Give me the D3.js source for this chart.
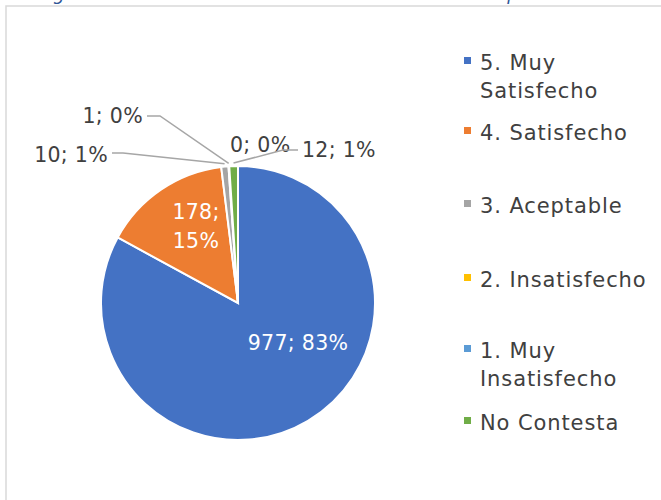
<!DOCTYPE html>
<html><head><meta charset="utf-8">
<script src="https://cdn.jsdelivr.net/npm/d3@7"></script>
<style>html,body{margin:0;padding:0;background:#fff;overflow:hidden}</style>
</head><body>
<svg id="c" width="661" height="500"></svg>
<script>
const categories = ["5. Muy Satisfecho","4. Satisfecho","3. Aceptable","2. Insatisfecho","1. Muy Insatisfecho","No Contesta"];
const values = [977,178,10,1,0,12];
const legendLines = [["5. Muy","Satisfecho"],["4. Satisfecho"],["3. Aceptable"],["2. Insatisfecho"],["1. Muy","Insatisfecho"],["No Contesta"]];
const colors = ["#4472C4","#ED7D31","#A5A5A5","#FFC000","#5B9BD5","#70AD47"];

const svg = d3.select("#c");
const FONT = "'DejaVu Sans', sans-serif";

// partially visible title at top
svg.append("text").attr("x",38).attr("y",0)
  .attr("font-family",FONT).attr("font-style","italic").attr("font-size",18)
  .attr("fill","#2F5597").text("Figura 11. Grado de satisfacción con la atención de personal de salud");

// chart frame
svg.append("rect").attr("x",6).attr("y",6).attr("width",700).attr("height",520)
  .attr("fill","none").attr("stroke","#d9d9d9").attr("stroke-width",1.5);

const cx=238, cy=303, r=137;
const total = d3.sum(values);
const pie = d3.pie().sort(null).value(d=>d)(values);
const arc = d3.arc().innerRadius(0).outerRadius(r);
const g = svg.append("g").attr("transform",`translate(${cx},${cy})`);
g.selectAll("path").data(pie).join("path")
  .attr("d",arc).attr("fill",(d,i)=>colors[i])
  .attr("stroke","#fff").attr("stroke-width",2);

const lbl = (i)=>`${values[i]}; ${Math.round(values[i]/total*100)}%`;
const fs = 20.5, ls = 0.3;
const TXT = "#404040";
// inside labels
g.append("text").attr("x",60).attr("y",40+7).attr("text-anchor","middle").attr("letter-spacing",ls)
  .attr("font-family",FONT).attr("font-size",fs).attr("fill","#fff").text(lbl(0));
const t1 = g.append("text").attr("text-anchor","middle").attr("font-family",FONT).attr("font-size",fs).attr("letter-spacing",ls).attr("fill","#fff");
const p1 = lbl(1).split(" ");
t1.append("tspan").attr("x",-42).attr("y",-91+7).text(p1[0]);
t1.append("tspan").attr("x",-42).attr("y",-62+7).text(p1[1]);

// outside labels with leader lines (relative to pie centre)
const outer = [
  {i:2, tx:-130, ty:-148, anchor:"end", line:[[-126,-150],[-115,-150]]},
  {i:3, tx:-95, ty:-187, anchor:"end", line:[[-91,-187],[-78,-187]]},
  {i:4, tx:-8, ty:-158, anchor:"start", line:null},
  {i:5, tx:64, ty:-153, anchor:"start", line:[[60,-153],[45,-153]]}
];
outer.forEach(o=>{
  const ang = (pie[o.i].startAngle+pie[o.i].endAngle)/2;
  const edge = [Math.sin(ang)*(r+3), -Math.cos(ang)*(r+3)];
  if(o.line){
    g.append("polyline").attr("points",[...o.line,edge].map(p=>p.join(",")).join(" "))
      .attr("fill","none").attr("stroke","#A6A6A6").attr("stroke-width",1.5);
  }
  g.append("text").attr("x",o.tx).attr("y",o.ty+7).attr("text-anchor",o.anchor).attr("letter-spacing",ls)
    .attr("font-family",FONT).attr("font-size",fs).attr("fill",TXT).text(lbl(o.i));
});

// legend
const legY = [70,140,213,287,358,430];
const lg = svg.append("g");
categories.forEach((c,i)=>{
  lg.append("rect").attr("x",464).attr("y",legY[i]-13).attr("width",7).attr("height",7).attr("fill",colors[i]);
  const t = lg.append("text").attr("font-family",FONT).attr("font-size",21).attr("letter-spacing",0.9).attr("fill",TXT);
  legendLines[i].forEach((s,k)=>t.append("tspan").attr("x",480).attr("y",legY[i]+k*28).text(s));
});
</script>
</body></html>
